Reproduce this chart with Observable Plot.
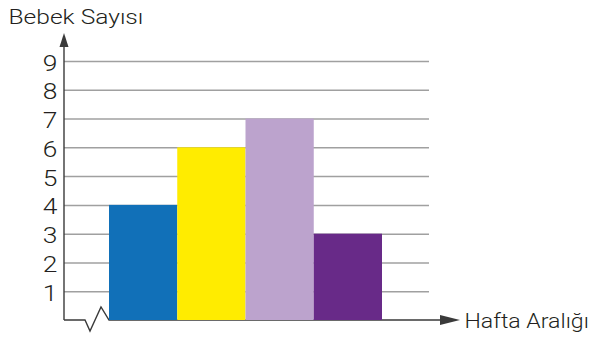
<!DOCTYPE html>
<html>
<head>
<meta charset="utf-8">
<script src="https://cdn.jsdelivr.net/npm/d3@7"></script>
<script src="https://cdn.jsdelivr.net/npm/@observablehq/plot@0.6"></script>
<style>
  body { margin: 0; background: #fff; }
  svg { display: block; }
</style>
</head>
<body>
<div id="chart"></div>
<script>
// Number of babies per week interval
const intervals = ["1. aralık", "2. aralık", "3. aralık", "4. aralık"];
const babyCounts = [4, 6, 7, 3];
const barColors = ["#1170b8", "#ffec00", "#bca3cd", "#682a88"];
const yTicks = [1, 2, 3, 4, 5, 6, 7, 8, 9];
const yTitle = "Bebek Sayısı";
const xTitle = "Hafta Aralığı";

const data = intervals.map((interval, i) => ({interval, count: babyCounts[i]}));

const ink = "#231f20";
const axisInk = "#3a3a3a";
const left = 64;

const chart = Plot.plot({
  width: 594,
  height: 340,
  marginLeft: left,
  marginRight: 165,
  marginTop: 0,
  marginBottom: 0,
  style: {fontFamily: "Roboto, 'Liberation Sans', Arial, sans-serif", fontWeight: 300, color: ink, background: "#fff"},
  x: {type: "band", domain: intervals, range: [109, 382], padding: 0, round: false, axis: null},
  y: {domain: [0, 9], range: [320, 61], axis: null},
  color: {domain: intervals, range: barColors},
  marks: [
    Plot.ruleY(yTicks, {stroke: "#a0a0a0", strokeWidth: 1.5}),
    Plot.barY(data, {x: "interval", y: "count", fill: "interval"}),
    Plot.axisY(yTicks, {anchor: "left", tickSize: 0, tickPadding: 7, fontSize: 22, dy: 2, label: null}),
    Plot.text([yTitle], {frameAnchor: "top-left", textAnchor: "start", lineAnchor: "bottom", dx: -56, dy: 23, fontSize: 21, fill: ink}),
    Plot.text([xTitle], {frameAnchor: "top-right", textAnchor: "start", lineAnchor: "bottom", dx: 35, dy: 327, fontSize: 21, fill: ink})
  ]
});

document.getElementById("chart").append(chart);

// Axis lines with arrowheads and the broken-axis zigzag, drawn beneath the bars
const xs = chart.scale("x");
const ys = chart.scale("y");
const y0 = ys.apply(0);
const yTop = ys.apply(9) - 28;
const barStart = xs.range[0];
const barEnd = xs.range[1];
const xTip = barEnd + 78;

const barGroup = chart.querySelector('g[aria-label="bar"]');
const deco = d3.select(chart).insert("g", () => barGroup)
  .attr("fill", "none")
  .attr("stroke", axisInk)
  .attr("stroke-width", 1.4)
  .attr("stroke-linejoin", "miter");

deco.append("path").attr("d", `M${left},${y0}V${yTop + 8}`);
deco.append("path").attr("fill", axisInk).attr("stroke", "none")
  .attr("d", `M${left},${yTop}L${left + 4.5},${yTop + 14}L${left - 4.5},${yTop + 14}Z`);

deco.append("path").attr("d",
  `M${left},${y0}H${barStart - 24}L${barStart - 19},${y0 + 11}L${barStart - 8},${y0 - 13}L${barStart},${y0}H${xTip - 16}`);
deco.append("path").attr("fill", axisInk).attr("stroke", "none")
  .attr("d", `M${xTip},${y0}L${xTip - 20},${y0 - 5}L${xTip - 20},${y0 + 5}Z`);

// Slightly widen the lettering
const stretch = (t) =>
  t.closest('g[aria-label="y-axis tick label"]') ? 1.2
  : t.textContent === xTitle ? 1.1
  : 1.17;
chart.querySelectorAll("text").forEach((t) => {
  const w = t.getComputedTextLength();
  t.setAttribute("textLength", w * stretch(t));
  t.setAttribute("lengthAdjust", "spacingAndGlyphs");
});
</script>
</body>
</html>
